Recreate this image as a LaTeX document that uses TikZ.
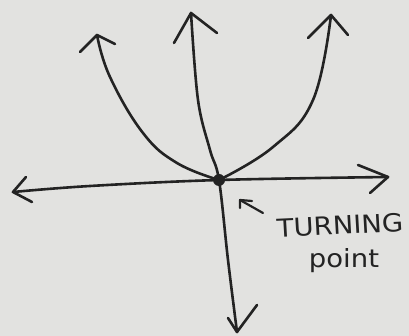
\documentclass[tikz,border=0pt]{standalone}
\usepackage{fontspec}
\setmainfont{DejaVu Sans}
\definecolor{paper}{RGB}{226,226,224}
\definecolor{ink}{RGB}{35,35,35}
\tikzset{
  pen/.style={draw=ink, line width=2.6pt, line cap=round, line join=round},
  barb/.style={pen},
  handtext/.style={text=ink, font=\fontsize{25}{28}\selectfont, inner sep=0pt}
}
\begin{document}
\begin{tikzpicture}[x=1pt,y=-1pt]
  \fill[paper] (0,0) rectangle (409,336);
  \useasboundingbox (0,0) rectangle (409,336);
  % turning point
  \node[circle, fill=ink, minimum size=12pt, inner sep=0pt] (tp) at (219,180) {};
  % coordinates
  \coordinate (hl) at (13,192);
  \coordinate (hr) at (388,177);
  \coordinate (vt) at (191,13);
  \coordinate (vb) at (237,332);
  \coordinate (pl) at (97,35);
  \coordinate (pr) at (331,15);
  % horizontal axis
  \draw[pen] plot[smooth, tension=0.6] coordinates {(hl) (90,186) (219,180) (hr)};
  % vertical axis
  \draw[pen] plot[smooth, tension=0.6] coordinates {(vt) (198,100) (210,150) (219,180) (228,260) (vb)};
  % parabola
  \draw[pen] plot[smooth, tension=0.7] coordinates {(pl) (110,77) (143,133) (177,163) (219,180)};
  \draw[pen] plot[smooth, tension=0.7] coordinates {(219,180) (273,147) (313,100) (pr)};
  % arrowheads
  \draw[barb] (80,52) -- (pl) -- (115,44);
  \draw[barb] (174,43) -- (vt) -- (217,33);
  \draw[barb] (308,38) -- (pr) -- (348,35);
  \draw[barb] (358,165) -- (hr) -- (370,193);
  \draw[barb] (26,177) -- (hl) -- (32,202);
  \draw[barb] (228,318) -- (vb) -- (257,305);
  % label pointer
  \coordinate (ptip) at (240,200);
  \coordinate (ptail) at (263,213);
  \draw[pen, line width=2.2pt] (240,208) -- (ptip) -- (252,201);
  \draw[pen, line width=2.2pt] (ptip) -- (ptail);
  % label
  \node[handtext, xscale=1.1, rotate=3] (t1) at (340,225) {TURNING};
  \node[handtext, xscale=1.1] (t2) at (344,261) {point};
\end{tikzpicture}
\end{document}
